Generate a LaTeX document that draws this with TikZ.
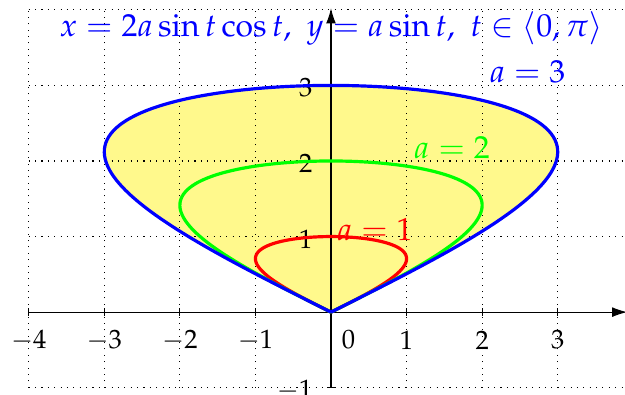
\documentclass[tikz,border=0pt]{standalone}
\usepackage{mathpazo}
\usetikzlibrary{arrows.meta}

\begin{document}
\begin{tikzpicture}[
    font=\large,
    curve/.style={
        very thick,
        domain=0:180,
        samples=150,
        smooth
    },
    axis/.style={
        -{Latex[length=2mm,width=1.3mm]}
    },
    xlabel/.style={
        font=\normalsize,
        inner sep=0pt
    },
    ylabel/.style={
        font=\normalsize,
        inner sep=0pt,
        anchor=east
    }
]
\useasboundingbox (-4.38,-1.09) rectangle (3.89,4.13);

% area inside the largest curve
\fill[yellow!45] plot[domain=0:180, samples=150, smooth] ({3*sin(2*\x)},{3*sin(\x)}) -- cycle;

\draw[dotted] (-4,-1) grid (3.95,4);

% axes and ticks
\draw[axis] (-4,0) -- (3.92,0);
\draw[axis] (0,-1) -- (0,4.02);
\foreach \i in {-4,...,3}
    \draw (\i,-0.05) -- (\i,0.05);
\foreach \j in {-1,1,2,3}
    \draw (-0.05,\j) -- (0.05,\j);

\foreach \i in {-4,...,-1,1,2,3}
    \node[xlabel] (xl\i) at (\i,-0.37) {$\i$};
\node[xlabel] (xl0) at (0.23,-0.37) {$0$};
\foreach \j in {-1,1,2,3}
    \node[ylabel] (yl\j) at (-0.24,\j-0.03) {$\j$};

% the curves
\draw[curve, red] plot ({sin(2*\x)},{sin(\x)});
\draw[curve, green] plot ({2*sin(2*\x)},{2*sin(\x)});
\draw[curve, blue] plot ({3*sin(2*\x)},{3*sin(\x)});

\node[blue] (title) at (0,3.76) {$x=2a\sin t\cos t,\ y=a\sin t,\ t\in\langle 0,\pi\rangle$};
\node[blue] (lab3) at (2.6,3.18) {$a=3$};
\node[green] (lab2) at (1.6,2.17) {$a=2$};
\node[red] (lab1) at (0.58,1.09) {$a=1$};

\end{tikzpicture}
\end{document}
